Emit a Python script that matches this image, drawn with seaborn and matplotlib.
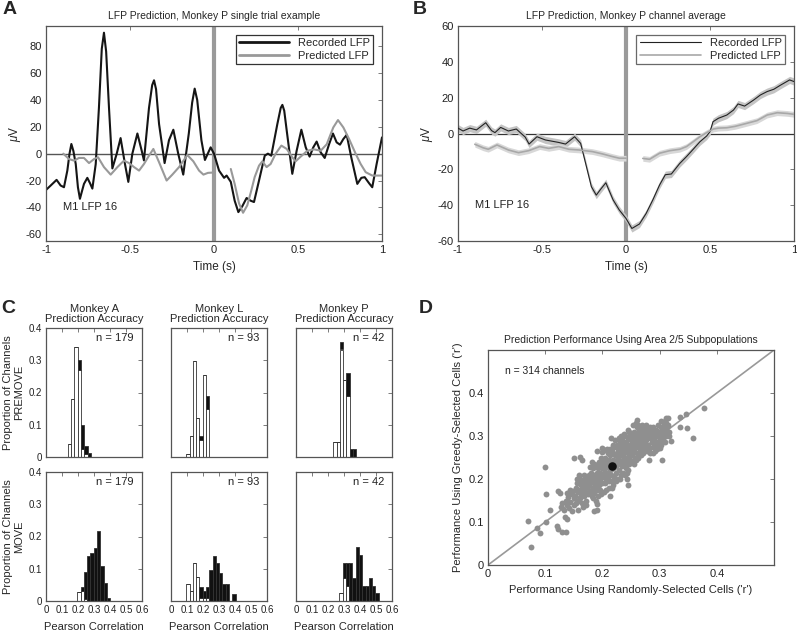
import matplotlib
matplotlib.use('Agg')
import matplotlib.pyplot as plt
import seaborn as sns
import pandas as pd
import numpy as np
from matplotlib.ticker import FuncFormatter

# ---- Panel A: single trial (time s, microvolts) ----
rec_a_t = [-1.0, -0.972, -0.937, -0.913, -0.893, -0.873, -0.86, -0.849, -0.837, -0.823,
           -0.81, -0.798, -0.786, -0.774, -0.754, -0.738, -0.724, -0.704, -0.685, -0.668,
           -0.655, -0.642, -0.625, -0.605, -0.579, -0.556, -0.53, -0.51, -0.486, -0.456,
           -0.43, -0.417, -0.387, -0.368, -0.357, -0.345, -0.327, -0.294, -0.268, -0.242,
           -0.213, -0.183, -0.15, -0.13, -0.115, -0.1, -0.075, -0.054, -0.02, 0.0,
           0.03, 0.06, 0.075, 0.1, 0.123, 0.145, 0.169, 0.194, 0.218, 0.238,
           0.268, 0.302, 0.321, 0.341, 0.377, 0.397, 0.407, 0.418, 0.433, 0.466,
           0.492, 0.52, 0.546, 0.569, 0.591, 0.611, 0.635, 0.659, 0.685, 0.708,
           0.73, 0.75, 0.77, 0.79, 0.817, 0.853, 0.877, 0.897, 0.923, 0.942,
           0.968, 1.0]
rec_a_v = [-27, -23.7, -19.5, -23.7, -25, -12.6, 0, 7.2, 2, -7.7,
           -25, -33.6, -28, -22.5, -18, -22, -26, -7.7, 34, 78,
           90, 76, 34, -11, 0, 11.6, -7.7, -21, 0, 15,
           2, -5, 34, 51, 54.6, 48, 22, -7, 10, 17.8,
           0, -15.6, 15, 38, 48.4, 40, 10, -4.7, 4.7, 0,
           -12.6, -18, -16.3, -21, -35, -43.5, -39, -33, -35, -36,
           -20, -1.5, 0, -1.5, 22, 34, 36.3, 32, 17, -15,
           2.2, 17.8, 4.7, -2.2, 4.7, 9, 1, -3.2, 7, 15,
           8.4, 6.7, 10.9, 14, -2.7, -22.5, -18, -17.5, -22, -25,
           -7.7, 12.1]
pred_a1_t = [-0.897, -0.863, -0.833, -0.804, -0.774, -0.744, -0.714, -0.69, -0.655, -0.615,
             -0.575, -0.536, -0.506, -0.476, -0.446, -0.417, -0.387, -0.361, -0.327, -0.282,
             -0.248, -0.208, -0.179, -0.159, -0.123, -0.089, -0.063, -0.036, 0.0]
pred_a1_v = [0, -4, -5.2, -3.2, -3.2, -7, -4, -2.7, -10, -15.6,
             -10, -5.2, -7, -10, -12.6, -7.7, -1.5, 3.5, -6.4, -20,
             -15.6, -10, -4.7, -1, -5.7, -12.6, -15.6, -14.3, -14]
pred_a2_t = [0.1, 0.123, 0.149, 0.173, 0.198, 0.222, 0.242, 0.268, 0.288, 0.313,
             0.337, 0.367, 0.401, 0.433, 0.466, 0.486, 0.516, 0.556, 0.595, 0.635,
             0.671, 0.71, 0.738, 0.77, 0.804, 0.843, 0.873, 0.903, 0.942, 0.972,
             1.0]
pred_a2_v = [-11.4, -22.5, -37, -44, -38.5, -27.4, -17.5, -8.9, -5.7, -10,
             -7.7, 0, 6, 3.5, -2.7, -5.7, -2.2, 2.2, 3.2, 2.2,
             7, 19.5, 25, 19.5, 10.9, 0, -7.7, -13.8, -16.3, -16.3,
             -16.3]

# ---- Panel B: channel average ----
rec_b_t = [-1.0, -0.97, -0.93, -0.89, -0.835, -0.8, -0.78, -0.746, -0.7, -0.653,
           -0.6, -0.577, -0.53, -0.48, -0.4, -0.36, -0.306, -0.27, -0.25, -0.206,
           -0.177, -0.15, -0.12, -0.077, -0.04, 0.0, 0.02, 0.035, 0.08, 0.12,
           0.16, 0.2, 0.234, 0.27, 0.32, 0.36, 0.4, 0.44, 0.48, 0.5,
           0.518, 0.55, 0.6, 0.64, 0.667, 0.706, 0.76, 0.8, 0.84, 0.88,
           0.92, 0.974, 1.0]
rec_b_v = [3, 1.4, 3, 2, 6, 1.6, 0.5, 3.4, 1.4, 2.5,
           -2, -5.9, -1.8, -3.6, -5, -5.9, -1.8, -5.5, -13, -29.7,
           -34.4, -31, -27.5, -37, -42.7, -47.4, -50.6, -53, -50.5, -44.6,
           -37, -28.7, -23, -22.6, -16.7, -12.9, -8.8, -4.6, -1.4, 1,
           6.6, 8.5, 10.3, 13.1, 16.5, 15.3, 18.7, 21.5, 23.4, 24.7,
           27, 29.9, 29]
pred_b1_t = [-0.9, -0.85, -0.82, -0.768, -0.7, -0.64, -0.58, -0.514, -0.46, -0.4,
             -0.34, -0.28, -0.2, -0.14, -0.08, -0.04, 0.0]
pred_b1_v = [-6, -8, -8.8, -6.4, -9.2, -10.7, -9.6, -7.3, -8.3, -7.3,
             -8.8, -9.2, -10.1, -11.4, -12.9, -13.8, -13.8]
pred_b2_t = [0.1, 0.14, 0.2, 0.26, 0.32, 0.36, 0.4, 0.44, 0.48, 0.52,
             0.55, 0.6, 0.65, 0.72, 0.78, 0.84, 0.9, 0.96, 1.0]
pred_b2_v = [-13.9, -14.4, -11, -9.6, -8.8, -7.3, -4.6, -1.8, 0.5, 2.5,
             3, 3.2, 4, 5.7, 7.2, 10.3, 11.6, 11.2, 10.7]
rec_b_sem = 2.0
pred_b_sem = 1.6

# ---- Panel C: histograms (proportion of channels), white = ns, black = sig ----
bin_width = 0.0205
hist_left = {('A', 'PREMOVE'): 0.137, ('L', 'PREMOVE'): 0.096, ('P', 'PREMOVE'): 0.233,
             ('A', 'MOVE'): 0.196, ('L', 'MOVE'): 0.096, ('P', 'MOVE'): 0.271}
white_a_pre = [0.04, 0.18, 0.34, 0.27, 0.026, 0.01, 0.0]
black_a_pre = [0.0, 0.0, 0.0, 0.03, 0.074, 0.024, 0.012]
white_l_pre = [0.01, 0.065, 0.297, 0.12, 0.054, 0.253, 0.15]
black_l_pre = [0.0, 0.0, 0.0, 0.0, 0.011, 0.0, 0.04]
white_p_pre = [2 / 42, 2 / 42, 14 / 42, 10 / 42, 8 / 42, 0, 0]
black_p_pre = [0, 0, 1 / 42, 0, 3 / 42, 1 / 42, 1 / 42]
white_a_move = [0.028, 0.03, 0.005, 0, 0, 0, 0, 0, 0, 0]
black_a_move = [0.0, 0.014, 0.085, 0.14, 0.15, 0.163, 0.218, 0.11, 0.055, 0.01]
white_l_move = [5, 3, 11, 7, 1, 1, 1, 0, 0, 0, 0, 0, 0, 0, 0]
black_l_move = [0, 0, 0, 0, 3, 2, 3, 9, 13, 11, 8, 5, 5, 0, 2]
white_p_move = [1, 3, 2, 0, 0, 0, 0, 0, 0, 0, 0, 0]
black_p_move = [0, 2, 3, 5, 3, 7, 6, 2, 2, 3, 2, 1]
n_channels = {'A': 179, 'L': 93, 'P': 42}
hist_sets = {
    ('A', 'PREMOVE'): (white_a_pre, black_a_pre, 1.0),
    ('L', 'PREMOVE'): (white_l_pre, black_l_pre, 1.0),
    ('P', 'PREMOVE'): (white_p_pre, black_p_pre, 1.0),
    ('A', 'MOVE'): (white_a_move, black_a_move, 1.0),
    ('L', 'MOVE'): (white_l_move, black_l_move, 93.0),
    ('P', 'MOVE'): (white_p_move, black_p_move, 42.0),
}

# ---- Panel D: random vs greedy selected cells (r) ----
cloud_r = [
    (0.127, 0.135), (0.13, 0.145), (0.133, 0.128), (0.136, 0.15), (0.138, 0.14), (0.14, 0.158),
    (0.142, 0.132), (0.144, 0.147), (0.146, 0.165), (0.147, 0.125), (0.148, 0.172), (0.15, 0.14),
    (0.15, 0.155), (0.143, 0.175), (0.138, 0.168),
    (0.152, 0.16), (0.153, 0.18), (0.154, 0.145), (0.156, 0.19), (0.157, 0.17), (0.158, 0.128),
    (0.16, 0.175), (0.16, 0.155), (0.161, 0.2), (0.162, 0.185), (0.163, 0.165), (0.164, 0.145),
    (0.165, 0.195), (0.166, 0.178), (0.167, 0.21), (0.168, 0.16), (0.169, 0.188), (0.17, 0.2),
    (0.17, 0.17), (0.171, 0.15), (0.172, 0.205), (0.173, 0.182), (0.174, 0.195), (0.175, 0.165),
    (0.155, 0.2), (0.159, 0.21), (0.166, 0.135), (0.172, 0.14), (0.158, 0.15), (0.164, 0.172),
    (0.176, 0.21), (0.177, 0.185), (0.178, 0.2), (0.178, 0.172), (0.18, 0.215), (0.18, 0.195),
    (0.181, 0.16), (0.182, 0.205), (0.183, 0.18), (0.184, 0.225), (0.185, 0.19), (0.185, 0.21),
    (0.186, 0.168), (0.187, 0.2), (0.188, 0.232), (0.188, 0.185), (0.19, 0.215), (0.19, 0.195),
    (0.191, 0.175), (0.192, 0.225), (0.193, 0.205), (0.194, 0.24), (0.194, 0.185), (0.195, 0.215),
    (0.196, 0.2), (0.197, 0.23), (0.197, 0.165), (0.198, 0.21), (0.199, 0.19), (0.2, 0.225),
    (0.2, 0.245), (0.179, 0.228), (0.183, 0.155), (0.189, 0.15), (0.192, 0.16), (0.195, 0.175),
    (0.198, 0.25), (0.186, 0.235), (0.181, 0.24), (0.176, 0.195),
    (0.201, 0.205), (0.202, 0.235), (0.203, 0.215), (0.204, 0.19), (0.205, 0.25), (0.205, 0.225),
    (0.206, 0.2), (0.207, 0.24), (0.208, 0.215), (0.209, 0.26), (0.21, 0.23), (0.21, 0.205),
    (0.211, 0.18), (0.212, 0.245), (0.213, 0.22), (0.214, 0.255), (0.215, 0.235), (0.215, 0.21),
    (0.216, 0.195), (0.217, 0.265), (0.218, 0.245), (0.219, 0.225), (0.22, 0.24), (0.22, 0.205),
    (0.221, 0.275), (0.222, 0.255), (0.223, 0.23), (0.224, 0.215), (0.225, 0.26), (0.225, 0.245),
    (0.208, 0.27), (0.212, 0.195), (0.216, 0.178), (0.219, 0.185), (0.223, 0.195), (0.203, 0.17),
    (0.206, 0.175), (0.21, 0.265), (0.214, 0.27), (0.218, 0.28), (0.222, 0.29), (0.224, 0.2),
    (0.2, 0.262), (0.205, 0.268), (0.213, 0.16),
    (0.226, 0.235), (0.227, 0.27), (0.228, 0.25), (0.229, 0.22), (0.23, 0.285), (0.23, 0.26),
    (0.231, 0.24), (0.232, 0.275), (0.233, 0.255), (0.234, 0.23), (0.235, 0.29), (0.235, 0.265),
    (0.236, 0.245), (0.237, 0.28), (0.238, 0.26), (0.239, 0.235), (0.24, 0.3), (0.24, 0.27),
    (0.241, 0.25), (0.242, 0.285), (0.243, 0.265), (0.244, 0.24), (0.245, 0.295), (0.245, 0.275),
    (0.246, 0.255), (0.247, 0.31), (0.248, 0.28), (0.248, 0.26), (0.249, 0.245), (0.25, 0.29),
    (0.25, 0.27), (0.228, 0.2), (0.232, 0.21), (0.236, 0.215), (0.241, 0.225), (0.245, 0.22),
    (0.238, 0.305), (0.244, 0.315), (0.229, 0.295), (0.233, 0.3), (0.226, 0.28), (0.231, 0.2),
    (0.239, 0.21), (0.243, 0.2), (0.247, 0.235), (0.234, 0.27), (0.242, 0.27), (0.237, 0.25),
    (0.249, 0.3), (0.227, 0.26),
    (0.251, 0.255), (0.252, 0.3), (0.253, 0.28), (0.254, 0.265), (0.255, 0.31), (0.255, 0.29),
    (0.256, 0.27), (0.257, 0.25), (0.258, 0.3), (0.259, 0.285), (0.26, 0.32), (0.26, 0.275),
    (0.261, 0.26), (0.262, 0.295), (0.263, 0.31), (0.264, 0.28), (0.265, 0.265), (0.266, 0.3),
    (0.267, 0.29), (0.268, 0.315), (0.269, 0.275), (0.27, 0.305), (0.27, 0.285), (0.271, 0.26),
    (0.272, 0.295), (0.273, 0.32), (0.274, 0.28), (0.275, 0.31), (0.275, 0.27), (0.252, 0.24),
    (0.256, 0.235), (0.259, 0.245), (0.263, 0.25), (0.267, 0.255), (0.272, 0.265), (0.254, 0.325),
    (0.258, 0.33), (0.262, 0.325), (0.266, 0.32), (0.27, 0.325), (0.261, 0.3), (0.265, 0.29),
    (0.257, 0.28), (0.268, 0.3), (0.274, 0.3),
    (0.276, 0.29), (0.277, 0.325), (0.278, 0.305), (0.279, 0.28), (0.28, 0.315), (0.281, 0.3),
    (0.282, 0.27), (0.283, 0.32), (0.284, 0.295), (0.285, 0.31), (0.286, 0.285), (0.287, 0.3),
    (0.288, 0.32), (0.289, 0.275), (0.29, 0.31), (0.291, 0.29), (0.292, 0.305), (0.293, 0.28),
    (0.294, 0.315), (0.295, 0.3), (0.296, 0.285), (0.297, 0.325), (0.298, 0.3), (0.299, 0.31),
    (0.3, 0.29), (0.278, 0.265), (0.283, 0.26), (0.288, 0.26), (0.292, 0.265), (0.296, 0.27),
    (0.302, 0.32), (0.304, 0.3), (0.305, 0.315), (0.306, 0.29), (0.307, 0.325), (0.308, 0.305),
    (0.31, 0.315), (0.311, 0.3), (0.312, 0.33), (0.313, 0.32), (0.315, 0.325), (0.316, 0.31),
    (0.31, 0.285), (0.303, 0.335), (0.309, 0.335),
]
outlier_r = [
    (0.0757, 0.0426), (0.07, 0.102), (0.0856, 0.085), (0.0914, 0.075), (0.101, 0.1006),
    (0.099, 0.228), (0.102, 0.165), (0.109, 0.129), (0.1205, 0.0905), (0.122, 0.083),
    (0.129, 0.076), (0.137, 0.077), (0.122, 0.1725), (0.126, 0.168), (0.138, 0.106),
    (0.135, 0.112), (0.15, 0.25), (0.16, 0.2515), (0.164, 0.245), (0.185, 0.125),
    (0.19, 0.128), (0.191, 0.1415), (0.19, 0.265), (0.199, 0.272), (0.215, 0.296),
    (0.244, 0.186), (0.243, 0.214), (0.26, 0.338), (0.281, 0.245), (0.301, 0.272),
    (0.302, 0.278), (0.305, 0.245), (0.317, 0.2995), (0.32, 0.289), (0.336, 0.321),
    (0.348, 0.319), (0.346, 0.352), (0.336, 0.344), (0.358, 0.296), (0.378, 0.366),
    (0.311, 0.342), (0.314, 0.343),
]
example_r = (0.217, 0.23)

# ---------------- styling ----------------
sns.set_style('white')
plt.rcParams['font.family'] = ['Liberation Sans', 'DejaVu Sans']
plt.rcParams['axes.unicode_minus'] = False
plt.rcParams['mathtext.fontset'] = 'custom'
plt.rcParams['mathtext.it'] = 'Liberation Sans:italic'
plt.rcParams['mathtext.rm'] = 'Liberation Sans'

fmt = FuncFormatter(lambda v, p: '%g' % round(v, 3))


def matlab_axes(ax, labelsize=8):
    for s in ax.spines.values():
        s.set_visible(True)
        s.set_color('#555555')
        s.set_linewidth(0.9)
    ax.tick_params(direction='in', top=True, right=True, length=3, width=0.6,
                   colors='#666666', labelcolor='#222222', labelsize=labelsize, pad=3)
    ax.xaxis.set_major_formatter(fmt)
    ax.yaxis.set_major_formatter(fmt)


fig = plt.figure(figsize=(7.97, 6.34), dpi=100)
W, H = 797.0, 634.0


def px_axes(x0, y0, x1, y1):
    return fig.add_axes([x0 / W, 1 - y1 / H, (x1 - x0) / W, (y1 - y0) / H])


# ---------------- Panel A ----------------
axA = px_axes(46, 26, 382, 241)
axA.axhline(0, color='#555555', lw=1.0, zorder=1)
axA.axvline(0, color='#9a9a9a', lw=3, zorder=1)
sns.lineplot(x=rec_a_t, y=rec_a_v, color='#151515', lw=1.5, ax=axA, label='Recorded LFP', sort=False)
sns.lineplot(x=pred_a1_t, y=pred_a1_v, color='#999999', lw=1.5, ax=axA, label='Predicted LFP', sort=False)
sns.lineplot(x=pred_a2_t, y=pred_a2_v, color='#999999', lw=1.5, ax=axA, sort=False)
axA.set_xlim(-1, 1)
axA.set_ylim(-65, 95)
axA.set_xticks([-1, -0.5, 0, 0.5, 1])
axA.set_yticks([-60, -40, -20, 0, 20, 40, 60, 80])
matlab_axes(axA)
axA.set_xlabel('Time (s)', fontsize=8.5)
axA.set_ylabel(r'$\mu$V', fontsize=8.5, labelpad=2)
axA.set_title('LFP Prediction, Monkey P single trial example', fontsize=7.5, pad=5)
axA.text(-0.9, -40, 'M1 LFP 16', fontsize=8, va='center', color='#222222')
legA = axA.legend(loc='upper right', fontsize=8, frameon=True, fancybox=False,
                  edgecolor='black', handlelength=4.5, borderpad=0.3, labelspacing=0.25,
                  borderaxespad=0.8)
legA.get_frame().set_linewidth(0.9)
for line in legA.get_lines():
    line.set_linewidth(2)

# ---------------- Panel B ----------------
axB = px_axes(458, 26, 794, 241)
axB.axhline(0, color='#333333', lw=0.9, zorder=1)
axB.axvline(0, color='#9a9a9a', lw=3, zorder=1)
axB.fill_between(rec_b_t, np.array(rec_b_v) - rec_b_sem, np.array(rec_b_v) + rec_b_sem,
                 color='#c4c4c4', lw=0, zorder=2)
axB.fill_between(pred_b1_t, np.array(pred_b1_v) - pred_b_sem, np.array(pred_b1_v) + pred_b_sem,
                 color='#d8d8d8', lw=0, zorder=2)
axB.fill_between(pred_b2_t, np.array(pred_b2_v) - pred_b_sem, np.array(pred_b2_v) + pred_b_sem,
                 color='#d8d8d8', lw=0, zorder=2)
sns.lineplot(x=rec_b_t, y=rec_b_v, color='#222222', lw=0.8, ax=axB, label='Recorded LFP', sort=False, zorder=3)
sns.lineplot(x=pred_b1_t, y=pred_b1_v, color='#a8a8a8', lw=1.2, ax=axB, label='Predicted LFP', sort=False, zorder=3)
sns.lineplot(x=pred_b2_t, y=pred_b2_v, color='#a8a8a8', lw=1.2, ax=axB, sort=False, zorder=3)
axB.set_xlim(-1, 1)
axB.set_ylim(-60, 60)
axB.set_xticks([-1, -0.5, 0, 0.5, 1])
axB.set_yticks([-60, -40, -20, 0, 20, 40, 60])
matlab_axes(axB)
axB.set_xlabel('Time (s)', fontsize=8.5)
axB.set_ylabel(r'$\mu$V', fontsize=8.5, labelpad=2)
axB.set_title('LFP Prediction, Monkey P channel average', fontsize=7.5, pad=5)
axB.text(-0.9, -40, 'M1 LFP 16', fontsize=8, va='center', color='#222222')
legB = axB.legend(loc='upper right', fontsize=8, frameon=True, fancybox=False,
                  edgecolor='#444444', handlelength=5.5, borderpad=0.3, labelspacing=0.25,
                  borderaxespad=0.8)
legB.get_frame().set_linewidth(0.9)

# ---------------- Panel C ----------------
col_x = {'A': (46, 142), 'L': (171, 267), 'P': (296, 392)}
row_y = {'PREMOVE': (328, 457), 'MOVE': (472, 601)}
for (monkey, epoch), (white, black, denom) in hist_sets.items():
    x0, x1 = col_x[monkey]
    y0, y1 = row_y[epoch]
    ax = px_axes(x0, y0, x1, y1)
    left = hist_left[(monkey, epoch)]
    nb = len(white)
    edges = [left + bin_width * k for k in range(nb + 1)]
    centers = [e + bin_width / 2 for e in edges[:-1]]
    df = pd.DataFrame({
        'r': centers + centers,
        'p': [w / denom for w in white] + [b / denom for b in black],
        'kind': ['ns'] * nb + ['sig'] * nb,
    })
    sns.histplot(data=df, x='r', weights='p', hue='kind', hue_order=['sig', 'ns'],
                 multiple='stack', bins=edges, palette={'ns': 'white', 'sig': '#111111'},
                 edgecolor='#333333', linewidth=0.6, alpha=1, legend=False, ax=ax)
    ax.set_xlim(0, 0.6)
    ax.set_ylim(0, 0.4)
    ax.set_xticks([0, 0.1, 0.2, 0.3, 0.4, 0.5, 0.6])
    ax.set_yticks([0, 0.1, 0.2, 0.3, 0.4])
    matlab_axes(ax, labelsize=7)
    ax.set_xlabel('')
    ax.set_ylabel('')
    ax.text(0.55, 0.385, 'n = %d' % n_channels[monkey], fontsize=8, ha='right', va='top',
            color='#222222')
    if epoch == 'PREMOVE':
        ax.set_title('Monkey %s\nPrediction Accuracy' % monkey, fontsize=8, pad=4,
                     linespacing=1.1)
        ax.tick_params(labelbottom=False)
    else:
        ax.set_xlabel('Pearson Correlation', fontsize=8, labelpad=5)
    if monkey == 'A':
        ax.set_ylabel('Proportion of Channels\n' + epoch, fontsize=8, labelpad=3,
                      linespacing=1.1)
    else:
        ax.tick_params(labelleft=False)

# ---------------- Panel D ----------------
axD = px_axes(488, 350, 774, 565)
pts = pd.DataFrame(cloud_r + outlier_r, columns=['random', 'greedy'])
axD.plot([0, 0.5], [0, 0.5], color='#999999', lw=1.2, zorder=1)
sns.scatterplot(data=pts, x='random', y='greedy', color='#8f8f8f', s=18, linewidth=0,
                ax=axD, zorder=2)
sns.scatterplot(x=[example_r[0]], y=[example_r[1]], color='#111111', s=38, linewidth=0,
                ax=axD, zorder=3)
axD.set_xlim(0, 0.5)
axD.set_ylim(0, 0.5)
axD.set_xticks([0, 0.1, 0.2, 0.3, 0.4])
axD.set_yticks([0, 0.1, 0.2, 0.3, 0.4])
matlab_axes(axD)
axD.set_xlabel("Performance Using Randomly-Selected Cells ('r')", fontsize=8)
axD.set_ylabel("Performance Using Greedy-Selected Cells ('r')", fontsize=8)
axD.set_title('Prediction Performance Using Area 2/5 Subpopulations', fontsize=7.5, pad=5)
axD.text(0.03, 0.45, 'n = 314 channels', fontsize=7.5, va='center', color='#222222')

# panel letters
for letter, (lx, ly) in {'A': (3, 1), 'B': (413, 1), 'C': (1, 300), 'D': (419, 300)}.items():
    fig.text(lx / W, 1 - ly / H, letter, fontsize=14, fontweight='bold', va='top', ha='left')

fig.savefig('out.png', dpi=100)
